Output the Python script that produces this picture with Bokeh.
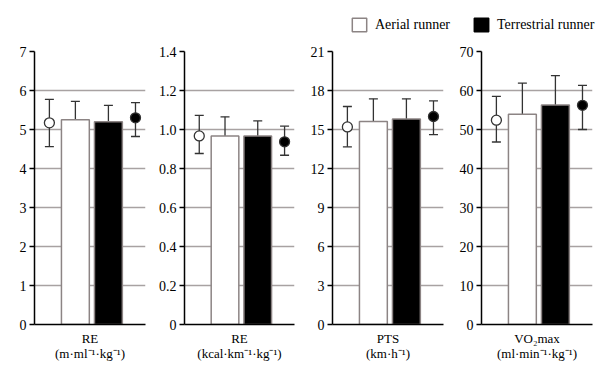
from bokeh.plotting import figure
from bokeh.models import Range1d, FixedTicker, Whisker, TeeHead, ColumnDataSource, Legend, LegendItem
from bokeh.layouts import column, row
from bokeh.embed import file_html
from bokeh.resources import INLINE

# ---------------- data ----------------
measure_labels = ["RE\n(m·ml⁻¹·kg⁻¹)", "RE\n(kcal·km⁻¹·kg⁻¹)", "PTS\n(km·h⁻¹)", "VO₂max\n(ml·min⁻¹·kg⁻¹)"]
series_names = ["Aerial runner", "Terrestrial runner"]

# open circles (aerial) mean and error range
aerial_dot = [5.17, 0.967, 15.2, 52.4]
aerial_dot_hi = [5.77, 1.072, 16.77, 58.5]
aerial_dot_lo = [4.56, 0.877, 13.67, 46.8]
# white bars (aerial runner)
aerial_bar = [5.25, 0.967, 15.62, 53.9]
aerial_bar_hi = [5.72, 1.065, 17.36, 61.9]
# black bars (terrestrial runner)
terr_bar = [5.20, 0.967, 15.8, 56.3]
terr_bar_hi = [5.62, 1.044, 17.36, 63.8]
# filled circles (terrestrial)
terr_dot = [5.30, 0.937, 16.0, 56.2]
terr_dot_hi = [5.69, 1.017, 17.2, 61.3]
terr_dot_lo = [4.82, 0.868, 14.6, 50.0]

# y axes
y_ticks = [
    [0, 1, 2, 3, 4, 5, 6, 7],
    [0, 0.2, 0.4, 0.6, 0.8, 1.0, 1.2, 1.4],
    [0, 3, 6, 9, 12, 15, 18, 21],
    [0, 10, 20, 30, 40, 50, 60, 70],
]
y_tick_labels = [
    ["0", "1", "2", "3", "4", "5", "6", "7"],
    ["0", "0.2", "0.4", "0.6", "0.8", "1.0", "1.2", "1.4"],
    ["0", "3", "6", "9", "12", "15", "18", "21"],
    ["0", "10", "20", "30", "40", "50", "60", "70"],
]

# ---------------- layout / style ----------------
SERIF = "Liberation Serif"
GRID = "#a8a2a2"
EDGE = "#8c8484"
ERR = "#333333"
X_MAX = 4.1
POS = [0.55, 1.51, 2.73, 3.73]   # dot, white bar, black bar, dot
BAR_W = 1.03
NAN = float("nan")

panels = []
for i in range(4):
    left = 34 if i == 0 else 28
    p = figure(width=left + 121, height=328, x_range=Range1d(0, X_MAX),
               y_range=Range1d(0, y_ticks[i][-1]),
               min_border_left=left, min_border_right=10, min_border_top=14, min_border_bottom=41,
               output_backend="svg", toolbar_location=None)
    p.outline_line_color = None
    p.xgrid.visible = False
    p.ygrid.ticker = FixedTicker(ticks=y_ticks[i])
    p.ygrid.grid_line_color = GRID
    p.ygrid.grid_line_width = 1.5

    ya = p.yaxis[0]
    ya.ticker = FixedTicker(ticks=y_ticks[i])
    ya.major_label_overrides = {t: l for t, l in zip(y_ticks[i], y_tick_labels[i])}
    ya.axis_line_color = "black"
    ya.axis_line_width = 1.5
    ya.major_tick_line_color = "black"
    ya.major_tick_line_width = 1.5
    ya.major_tick_out = 5
    ya.major_tick_in = 0
    ya.minor_tick_line_color = None
    ya.major_label_text_font = SERIF
    ya.major_label_text_font_size = "14px"
    ya.major_label_text_color = "black"
    ya.major_label_standoff = 3

    xa = p.xaxis[0]
    xa.ticker = FixedTicker(ticks=[])
    xa.axis_line_color = "black"
    xa.axis_line_width = 1.5
    xa.major_tick_line_color = None
    xa.minor_tick_line_color = None
    xa.axis_label = measure_labels[i]
    xa.axis_label_text_font = SERIF
    xa.axis_label_text_font_size = "13px"
    xa.axis_label_text_font_style = "normal"
    xa.axis_label_text_color = "black"
    xa.axis_label_text_line_height = 1.0
    xa.axis_label_standoff = 6

    # bars
    bsrc = ColumnDataSource(dict(x=[POS[1], POS[2]], top=[aerial_bar[i], terr_bar[i]],
                                 hi=[aerial_bar_hi[i], terr_bar_hi[i]],
                                 color=["white", "black"]))
    p.add_layout(Whisker(source=bsrc, base="x", upper="hi", lower="top", dimension="height",
                         line_color=ERR, line_width=1.3,
                         upper_head=TeeHead(size=9, line_color=ERR, line_width=1.3),
                         lower_head=None))
    p.vbar(x="x", top="top", width=BAR_W, source=bsrc, fill_color="color",
           line_color=EDGE, line_width=1.5)

    # dots
    dsrc = ColumnDataSource(dict(x=[POS[0], POS[3]], y=[aerial_dot[i], terr_dot[i]],
                                 hi=[aerial_dot_hi[i], terr_dot_hi[i]],
                                 lo=[aerial_dot_lo[i], terr_dot_lo[i]],
                                 color=["white", "black"]))
    p.add_layout(Whisker(source=dsrc, base="x", upper="hi", lower="lo", dimension="height",
                         line_color=ERR, line_width=1.3,
                         upper_head=TeeHead(size=9, line_color=ERR, line_width=1.3),
                         lower_head=TeeHead(size=9, line_color=ERR, line_width=1.3)))
    p.scatter(x="x", y="y", source=dsrc, size=10, fill_color="color",
              line_color="#333333", line_width=1.3)
    panels.append(p)

# legend strip
lg = figure(width=602, height=37, x_range=Range1d(0, 1), y_range=Range1d(0, 1),
            min_border=0, x_axis_type=None, y_axis_type=None,
            output_backend="svg", toolbar_location=None)
lg.outline_line_color = None
lg.grid.visible = False
# legend proxies with no drawable data
r1 = lg.vbar(x=[NAN], top=[NAN], width=0.1, fill_color="white", line_color=EDGE, line_width=1.5)
r2 = lg.vbar(x=[NAN], top=[NAN], width=0.1, fill_color="black", line_color="black", line_width=1.5)
legend = Legend(items=[LegendItem(label=series_names[0], renderers=[r1]),
                       LegendItem(label=series_names[1], renderers=[r2])],
                orientation="horizontal", location=(350, 4),
                glyph_width=18, glyph_height=17, label_height=17,
                label_standoff=7, spacing=22, padding=0, margin=0,
                border_line_color=None, background_fill_alpha=0,
                label_text_font=SERIF, label_text_font_size="14px", label_text_color="black")
lg.add_layout(legend)

layout = column(lg, row(*panels, spacing=0), spacing=0)

with open("out.html", "w") as f:
    f.write(file_html(layout, INLINE))
